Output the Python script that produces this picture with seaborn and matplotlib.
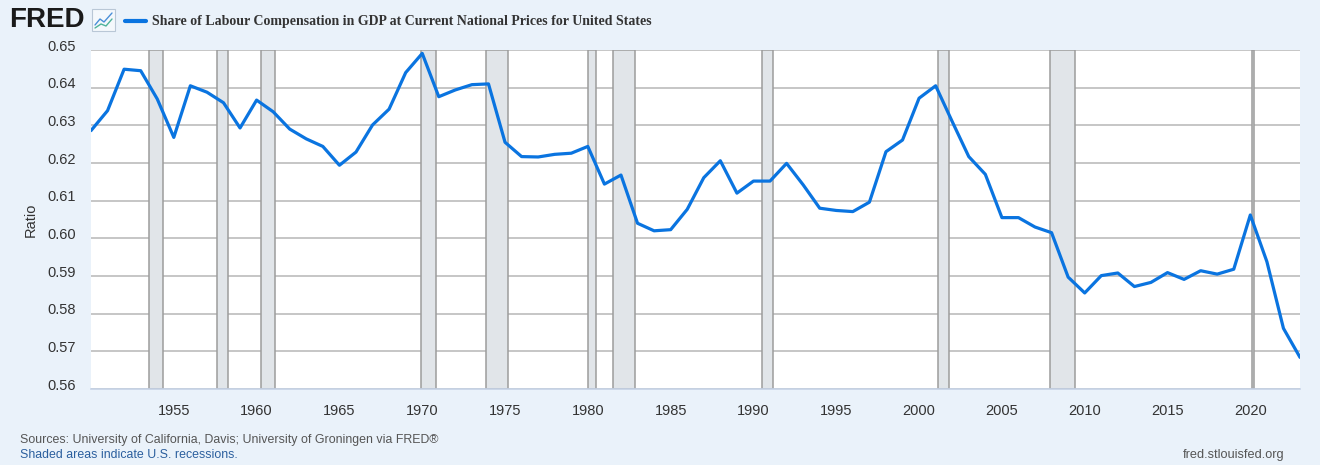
import pandas as pd
import matplotlib.pyplot as plt
import matplotlib.dates as mdates
import matplotlib.transforms as mtransforms
import seaborn as sns

# Annual values
years = list(range(1950, 2024))
labour_share = [
    0.6286, 0.6339, 0.6449, 0.6445, 0.6370, 0.6268, 0.6405, 0.6388, 0.6360, 0.6293,
    0.6367, 0.6336, 0.6290, 0.6264, 0.6244, 0.6194, 0.6229, 0.6301, 0.6343, 0.6440,
    0.6491, 0.6376, 0.6394, 0.6408, 0.6410, 0.6255, 0.6217, 0.6216, 0.6223, 0.6226,
    0.6244, 0.6144, 0.6168, 0.6040, 0.6020, 0.6023, 0.6077, 0.6161, 0.6206, 0.6120,
    0.6152, 0.6152, 0.6199, 0.6142, 0.6080, 0.6074, 0.6071, 0.6096, 0.6230, 0.6261,
    0.6372, 0.6405, 0.6310, 0.6217, 0.6170, 0.6055, 0.6055, 0.6030, 0.6015, 0.5897,
    0.5855, 0.5901, 0.5908, 0.5872, 0.5883, 0.5909, 0.5891, 0.5914, 0.5905, 0.5918,
    0.6062, 0.5938, 0.5761, 0.5684,
]

# NBER recessions (start, end)
recession_start = ['1953-07-01', '1957-08-01', '1960-04-01', '1969-12-01', '1973-11-01',
                   '1980-01-01', '1981-07-01', '1990-07-01', '2001-03-01', '2007-12-01',
                   '2020-02-01']
recession_end = ['1954-05-01', '1958-04-01', '1961-02-01', '1970-11-01', '1975-03-01',
                 '1980-07-01', '1982-11-01', '1991-03-01', '2001-11-01', '2009-06-01',
                 '2020-04-01']

y_ticks = [0.56, 0.57, 0.58, 0.59, 0.60, 0.61, 0.62, 0.63, 0.64, 0.65]
x_tick_years = list(range(1955, 2021, 5))

df = pd.DataFrame({'date': pd.to_datetime([f'{y}-01-01' for y in years]),
                   'value': labour_share})

bg = '#eaf2fa'
line_color = '#0a74e0'

sns.set_style('white')
plt.rcParams['font.family'] = ['Liberation Sans', 'DejaVu Sans']

fig = plt.figure(figsize=(13.2, 4.65), dpi=100, facecolor=bg)
ax = fig.add_axes([91 / 1320, 1 - 389 / 465, (1300 - 91) / 1320, (389 - 50) / 465])
ax.set_facecolor('white')

for s, e in zip(recession_start, recession_end):
    ax.axvspan(pd.Timestamp(s), pd.Timestamp(e), facecolor='#e1e5e9', edgecolor='#9c9c9c',
               linewidth=1.1, zorder=1)

for t in y_ticks:
    ax.axhline(t, color='#c2c2c2', linewidth=1.3, zorder=0.5)

sns.lineplot(data=df, x='date', y='value', ax=ax, color=line_color, linewidth=2.3, zorder=3)

ax.set_xlim(pd.Timestamp('1950-01-01'), pd.Timestamp('2023-01-01'))
ax.set_ylim(0.56, 0.65)
ax.set_yticks(y_ticks)
ax.set_yticklabels([f'{t:.2f}' for t in y_ticks])
ax.set_xticks([pd.Timestamp(f'{y}-01-01') for y in x_tick_years])
ax.xaxis.set_major_formatter(mdates.DateFormatter('%Y'))
ax.grid(False)

for side in ['top', 'right', 'left']:
    ax.spines[side].set_visible(False)
ax.spines['bottom'].set_color('#c5d2e6')
ax.spines['bottom'].set_linewidth(1.2)

ax.tick_params(axis='x', length=9, width=1, color='#c5d2e6', labelsize=10.5,
               labelcolor='#333333', pad=2)
ax.tick_params(axis='y', length=0, labelsize=10.5, labelcolor='#333333', pad=11)
offset = mtransforms.ScaledTranslation(0, 5 / 100, fig.dpi_scale_trans)
for lbl in ax.get_yticklabels():
    lbl.set_transform(lbl.get_transform() + offset)

ax.set_xlabel('')
ax.set_ylabel('Ratio', fontsize=10.5, color='#333333', labelpad=7)

# header
fig.text(9 / 1320, 1 - 20 / 465, 'FRED', fontsize=20, fontweight='heavy', color='#1a1a1a',
         va='center', ha='left')
fig.patches.append(plt.Rectangle((92 / 1320, 1 - 31 / 465), 23 / 1320, 22 / 465,
                                 transform=fig.transFigure, facecolor='#f4f8fc',
                                 edgecolor='#b9c7d6', linewidth=0.8))
fig.lines.append(plt.Line2D([95 / 1320, 100 / 1320, 104 / 1320, 112 / 1320],
                            [1 - 25 / 465, 1 - 19 / 465, 1 - 22 / 465, 1 - 13 / 465],
                            transform=fig.transFigure, color='#4a8fd8', linewidth=1))
fig.lines.append(plt.Line2D([95 / 1320, 101 / 1320, 106 / 1320, 112 / 1320],
                            [1 - 28 / 465, 1 - 24 / 465, 1 - 26 / 465, 1 - 19 / 465],
                            transform=fig.transFigure, color='#4fb39a', linewidth=1))
fig.lines.append(plt.Line2D([125 / 1320, 146 / 1320], [1 - 21 / 465, 1 - 21 / 465],
                            transform=fig.transFigure, color=line_color, linewidth=3))
fig.text(152 / 1320, 1 - 21 / 465,
         'Share of Labour Compensation in GDP at Current National Prices for United States',
         family=['Liberation Serif', 'DejaVu Serif'], fontweight='bold', fontsize=10,
         color='#333333', va='center', ha='left')

# footer
fig.text(20 / 1320, 1 - 440 / 465,
         'Sources: University of California, Davis; University of Groningen via FRED®',
         fontsize=8.9, color='#555555', va='center', ha='left')
fig.text(20 / 1320, 1 - 455 / 465, 'Shaded areas indicate U.S. recessions.',
         fontsize=8.9, color='#2b5f9e', va='center', ha='left')
fig.text(1284 / 1320, 1 - 455 / 465, 'fred.stlouisfed.org',
         fontsize=9.2, color='#555555', va='center', ha='right')

fig.savefig('out.png', dpi=100, facecolor=bg)
